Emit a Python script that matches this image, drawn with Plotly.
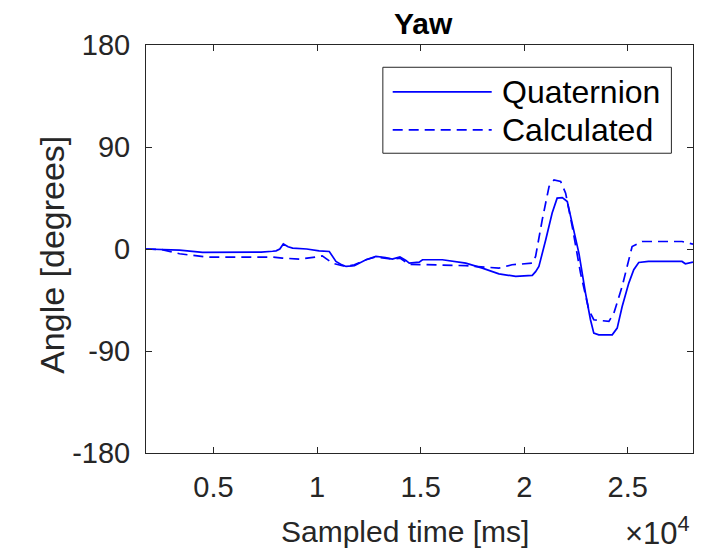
import plotly.graph_objects as go

# yaw angle (x in ms, y in degrees)
quat_t = [1740, 2500, 3360, 4470, 5500, 6500, 7300, 7850, 8020, 8200, 8370, 8600, 8820,
          9500, 10100, 10590, 10910, 11200, 11400, 11800, 12360, 12840, 13300, 13630,
          14000, 14290, 14450, 14930, 15090, 16050, 17180, 17980, 18780, 19590, 20390,
          20550, 20710, 21040, 21350, 21590, 21840, 22080, 22320, 22640, 22960, 23200,
          23360, 23600, 24250, 24490, 24730, 25050, 25290, 25530, 26000, 27000, 27620,
          27780, 28150]
quat_yaw = [0, -0.5, -1, -3, -3, -3, -2.8, -2, -1.6, 0, 4.5, 2, 0.8,
            0, -1.6, -2.2, -11, -14, -15.4, -14.8, -9.5, -6.6, -7.5, -8.9,
            -7, -10.1, -12.5, -11.6, -9.5, -9.5, -12.5, -16.9, -21.9, -24.2, -23.3,
            -20, -15.4, 8.1, 31.7, 44.9, 45.4, 41.9, 22.8, -3.6, -38.9, -62.4,
            -74.2, -75.7, -75.7, -69.8, -50.7, -30.1, -18.3, -11.9, -11, -11, -11,
            -13, -11.5]

calc_t = [1740, 2500, 3360, 4650, 6000, 7840, 8320, 9140, 10000, 10250, 10740, 11220,
          11500, 11800, 12360, 12840, 13630, 14000, 14450, 15560, 17180, 18780, 19410,
          20390, 20550, 20870, 21200, 21440, 21760, 22000, 22320, 22720, 23120, 23360,
          24090, 24330, 24730, 25210, 25690, 27620, 28150]
calc_yaw = [0, -0.5, -4.2, -7.1, -7.1, -7.1, -8, -8.9, -7, -6, -12.5, -14.8,
            -15, -14, -9.5, -7, -9, -8, -13.5, -13.9, -14.7, -16.9, -13.9,
            -12.5, -6.6, 25.7, 55.1, 61, 59.6, 49.3, 19.8, -21.3, -53.6, -62.4,
            -63.9, -56.5, -33, 2.2, 6.6, 6.6, 4.3]

x_ticks = [5000, 10000, 15000, 20000, 25000]
x_ticklabels = ["0.5", "1", "1.5", "2", "2.5"]
y_ticks = [-180, -90, 0, 90, 180]
y_ticklabels = ["-180", "-90", "0", "90", "180"]

names = ["Quaternion", "Calculated"]
dashes = ["solid", "10px,6px"]

font = "Liberation Sans, Arial, Helvetica, sans-serif"
axis_col = "#262626"
blue = "#0000ff"

fig = go.Figure()

fig.add_trace(go.Scatter(
    x=quat_t, y=quat_yaw, mode="lines", name=names[0],
    line=dict(color=blue, width=1.7, dash=dashes[0])
))

fig.add_trace(go.Scatter(
    x=calc_t, y=calc_yaw, mode="lines", name=names[1],
    line=dict(color=blue, width=1.7, dash=dashes[1])
))

# page body has an 8px margin, so the figure is 8px smaller than the window
fig.update_layout(
    width=714, height=543,
    margin=dict(l=138, r=29, t=37, b=98, autoexpand=False),
    paper_bgcolor="white", plot_bgcolor="white",
    font=dict(family=font, size=29, color=axis_col),
    title=dict(text="<b>Yaw</b>", x=0.5815, xanchor="center", y=0.971, yanchor="middle",
               font=dict(size=30, color="black")),
    showlegend=False,
)

fig.update_xaxes(
    range=[1740, 28150], tickvals=x_ticks, ticktext=x_ticklabels,
    ticks="inside", ticklen=6, tickcolor=axis_col, tickwidth=1,
    ticklabelstandoff=8,
    showline=True, linecolor=axis_col, linewidth=1, mirror="ticks",
    showgrid=False, zeroline=False, automargin=False,
)
fig.update_yaxes(
    range=[-180, 180], tickvals=y_ticks, ticktext=y_ticklabels,
    ticks="inside", ticklen=6, tickcolor=axis_col, tickwidth=1,
    ticklabelstandoff=9,
    showline=True, linecolor=axis_col, linewidth=1, mirror="ticks",
    showgrid=False, zeroline=False, automargin=False,
)

# axis titles
fig.add_annotation(
    text="Sampled time [ms]", xref="paper", yref="paper",
    x=0.474, y=-0.192, xanchor="center", yanchor="middle", showarrow=False,
    font=dict(size=30, color=axis_col)
)
fig.add_annotation(
    text="Angle [degrees]", xref="paper", yref="paper", textangle=-90,
    x=-0.1716, y=0.486, xanchor="center", yanchor="middle", showarrow=False,
    font=dict(size=34, color=axis_col)
)

# legend box drawn like MATLAB's (long line samples)
fig.add_shape(type="rect", xref="paper", yref="paper",
              x0=0.433, x1=0.9605, y0=0.7347, y1=0.9454,
              line=dict(color=axis_col, width=1), fillcolor="white", layer="above")
for i, (nm, ds) in enumerate(zip(names, dashes)):
    yy = 0.8849 - i * 0.0931
    fig.add_shape(type="line", xref="paper", yref="paper",
                  x0=0.451, x1=0.632, y0=yy, y1=yy, layer="above",
                  line=dict(color=blue, width=1.7, dash=ds))
    fig.add_annotation(text=nm, xref="paper", yref="paper", x=0.648, y=yy,
                       xanchor="left", yanchor="middle", showarrow=False,
                       font=dict(size=32, color="black"))

fig.add_annotation(
    text="\u00d710<sup>4</sup>", xref="paper", yref="paper",
    x=0.9976, y=-0.19, xanchor="right", yanchor="middle", showarrow=False,
    font=dict(size=31, color=axis_col)
)

fig.write_html("out.html")
